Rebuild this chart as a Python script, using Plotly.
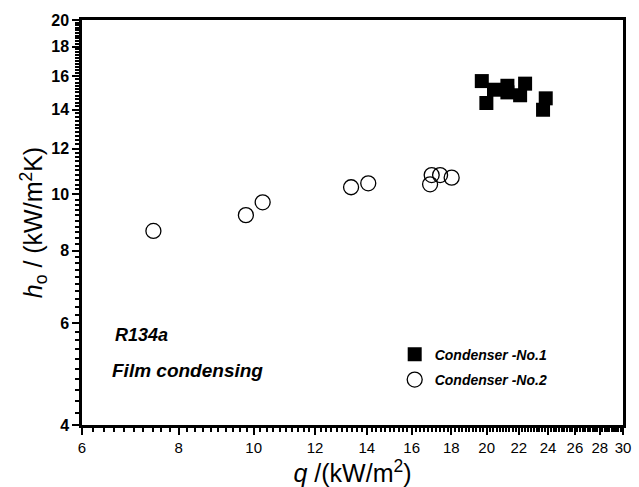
import numpy as np
import plotly.graph_objects as go

# Condenser No.1 (filled squares)
q1 = [19.71, 19.98, 20.44, 21.27, 21.27, 22.09, 22.42, 23.84, 23.65]
h1 = [15.69, 14.38, 15.16, 15.40, 15.00, 14.83, 15.53, 14.65, 14.00]

# Condenser No.2 (open circles)
q2 = [7.42, 9.77, 10.27, 13.36, 14.06, 16.90, 16.98, 17.41, 18.02]
h2 = [8.65, 9.21, 9.69, 10.29, 10.45, 10.41, 10.80, 10.80, 10.69]

x_ticks = [6, 8, 10, 12, 14, 16, 18, 20, 22, 24, 26, 28, 30]
y_ticks = [4, 6, 8, 10, 12, 14, 16, 18, 20]

x_minor = [round(v, 1) for v in np.arange(6.2, 30.0, 0.2) if abs(v - round(v / 2) * 2) > 1e-6]
y_minor = [round(v, 1) for v in np.arange(4.2, 20.0, 0.2) if abs(v - round(v / 2) * 2) > 1e-6]

FONT = "Liberation Sans, Arial, sans-serif"

fig = go.Figure()
fig.add_trace(go.Scatter(
    x=q1, y=h1, mode="markers", name="<b><i>Condenser -No.1</i></b>",
    marker=dict(symbol="square", size=14, color="black", line=dict(color="black", width=0)),
    legendgroup="a",
))
fig.add_trace(go.Scatter(
    x=q2, y=h2, mode="markers", name="<b><i>Condenser -No.2</i></b>",
    marker=dict(symbol="circle-open", size=15, color="black", line=dict(color="black", width=1.3)),
    legendgroup="b",
))

fig.update_layout(
    width=639, height=487,
    margin=dict(l=82, r=16, t=20, b=62),
    paper_bgcolor="white", plot_bgcolor="white",
    font=dict(family=FONT, color="black"),
    showlegend=True,
    legend=dict(
        x=0.578, y=0.213, xanchor="left", yanchor="top",
        bgcolor="rgba(0,0,0,0)", font=dict(size=14, family=FONT),
        traceorder="grouped", tracegroupgap=4, itemwidth=30,
    ),
    xaxis=dict(
        type="log", range=[np.log10(6), np.log10(30)],
        tickvals=x_ticks, ticktext=[str(v) for v in x_ticks],
        tickfont=dict(size=15, family=FONT),
        ticks="outside", ticklen=7, tickwidth=2, tickcolor="black",
        minor=dict(tickvals=x_minor, ticks="outside", ticklen=4, tickwidth=1.5, tickcolor="black"),
        showline=True, linewidth=2.5, linecolor="black", mirror=True,
        showgrid=False, zeroline=False, automargin=False,
        title=dict(text="<i>q</i> /(kW/m<sup>2</sup>)", font=dict(size=25, family=FONT), standoff=0),
    ),
    yaxis=dict(
        type="log", range=[np.log10(4), np.log10(20)],
        tickvals=y_ticks, ticktext=[str(v) for v in y_ticks],
        tickfont=dict(size=16, family=FONT, weight="bold"),
        ticks="outside", ticklen=7, tickwidth=2, tickcolor="black",
        minor=dict(tickvals=y_minor, ticks="outside", ticklen=4, tickwidth=1.5, tickcolor="black"),
        showline=True, linewidth=2.5, linecolor="black", mirror=True,
        showgrid=False, zeroline=False, automargin=False,
        title=dict(text="<i>h</i><sub>o</sub> / (kW/m<sup>2</sup>K)", font=dict(size=25, family=FONT), standoff=0),
    ),
    annotations=[
        dict(text="<b><i>R134a</i></b>", xref="paper", yref="paper", x=0.058, y=0.222,
             xanchor="left", yanchor="middle", showarrow=False, font=dict(size=18, family=FONT)),
        dict(text="<b><i>Film condensing</i></b>", xref="paper", yref="paper", x=0.052, y=0.135,
             xanchor="left", yanchor="middle", showarrow=False, font=dict(size=19, family=FONT)),
    ],
)

fig.write_html("out.html", config={"displayModeBar": False},
               post_script="document.body.style.margin='0';")
